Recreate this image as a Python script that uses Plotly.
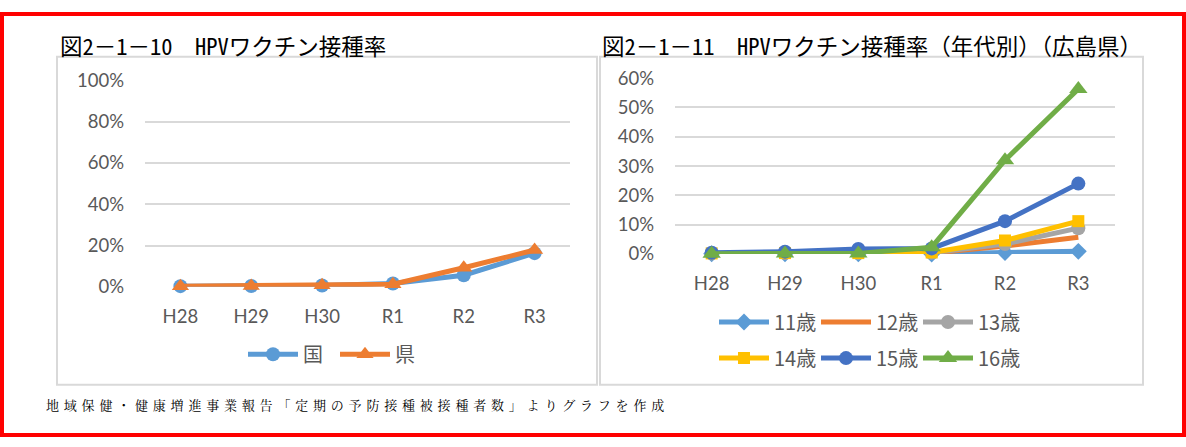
import plotly.graph_objects as go

W, H = 1186, 447

years = ["H28", "H29", "H30", "R1", "R2", "R3"]

# Left chart: 国 / 県
kuni = [0.003, 0.004, 0.006, 0.016, 0.056, 0.163]
ken = [0.003, 0.004, 0.007, 0.012, 0.092, 0.178]

# Right chart: by age (広島県)
age11 = [0.001, 0.001, 0.001, 0.000, 0.005, 0.009]
age12 = [0.001, 0.001, 0.001, 0.003, 0.027, 0.057]
age13 = [0.002, 0.003, 0.003, 0.004, 0.034, 0.088]
age14 = [0.002, 0.003, 0.003, 0.005, 0.046, 0.112]
age15 = [0.004, 0.008, 0.017, 0.019, 0.112, 0.240]
age16 = [0.001, 0.002, 0.002, 0.023, 0.320, 0.563]

left_ticks = [0, 0.2, 0.4, 0.6, 0.8, 1.0]
right_ticks = [0, 0.1, 0.2, 0.3, 0.4, 0.5, 0.6]

title_left = "図2－1－10　HPVワクチン接種率"
title_right = "図2－1－11　HPVワクチン接種率（年代別）（広島県）"
footer = "地域保健・健康増進事業報告「定期の予防接種被接種者数」よりグラフを作成"


def px(x):
    return x / W


def py(y):
    return 1 - y / H


GRAY = "#595959"
GRID = "#d9d9d9"
TICKFONT = dict(family="Lato, Open Sans, sans-serif", size=18.5, color=GRAY)
LEGFONT = dict(family="Noto Sans CJK JP, sans-serif", size=20, color=GRAY)
TITLEFONT = dict(family="Noto Sans Mono CJK JP, Noto Sans CJK JP, sans-serif", size=22.5, color="#000000")

fig = go.Figure()


def add(name, x, y, color, symbol, msize, xa, ya, legend, show_marker=True):
    fig.add_trace(go.Scatter(
        x=x, y=y, name=name, mode="lines+markers" if show_marker else "lines",
        line=dict(color=color, width=5),
        marker=dict(color=color, symbol=symbol, size=msize),
        xaxis=xa, yaxis=ya, legend=legend, cliponaxis=False,
    ))


add("国", years, kuni, "#5B9BD5", "circle", 14, "x", "y", "legend")
add("県", years, ken, "#ED7D31", "triangle-up", 15, "x", "y", "legend")

add("11歳", years, age11, "#5B9BD5", "diamond", 13, "x2", "y2", "legend2")
add("12歳", years, age12, "#ED7D31", "circle", 13, "x2", "y2", "legend2", show_marker=False)
add("13歳", years, age13, "#A5A5A5", "circle", 14, "x2", "y2", "legend2")
add("14歳", years, age14, "#FFC000", "square", 12, "x2", "y2", "legend3")
add("15歳", years, age15, "#4472C4", "circle", 14, "x2", "y2", "legend3")
add("16歳", years, age16, "#70AD47", "triangle-up", 16, "x2", "y2", "legend3")

common_x = dict(type="category", range=[-0.5, 5.5], showgrid=False, zeroline=False,
                showline=False, ticks="", tickfont=TICKFONT, ticklabelstandoff=17,
                fixedrange=True)
common_y = dict(showgrid=True, gridcolor=GRID, gridwidth=2, zeroline=False,
                showline=False, ticks="", tickfont=TICKFONT, tickformat=".0%",
                ticklabelstandoff=20, fixedrange=True)

legend_common = dict(orientation="h", xanchor="left", yanchor="middle", font=LEGFONT,
                     bgcolor="rgba(0,0,0,0)", itemwidth=50, tracegroupgap=0)

fig.update_layout(
    width=W, height=H,
    margin=dict(l=0, r=0, t=0, b=0),
    paper_bgcolor="white", plot_bgcolor="rgba(0,0,0,0)",
    xaxis=dict(common_x, domain=[px(145), px(570)], anchor="y"),
    yaxis=dict(common_y, domain=[py(289), py(72)], range=[0, 1],
               tickvals=left_ticks, anchor="x"),
    xaxis2=dict(common_x, domain=[px(675), px(1115)], anchor="y2"),
    yaxis2=dict(common_y, domain=[py(254.5), py(69.5)], range=[0, 0.6],
                tickvals=right_ticks, anchor="x2"),
    legend=dict(legend_common, x=px(243), y=py(360), entrywidth=27),
    legend2=dict(legend_common, x=px(714), y=py(326), entrywidth=37),
    legend3=dict(legend_common, x=px(714), y=py(364), entrywidth=37),
    shapes=[
        dict(type="rect", xref="paper", yref="paper", x0=px(57), x1=px(597), y0=py(392), y1=py(47),
             line=dict(color=GRID, width=2), layer="below"),
        dict(type="rect", xref="paper", yref="paper", x0=px(600), x1=px(1143), y0=py(392), y1=py(47),
             line=dict(color=GRID, width=2), layer="below"),
        dict(type="rect", xref="paper", yref="paper", x0=px(2), x1=px(1184), y0=py(445), y1=py(2),
             line=dict(color="#FF0000", width=4)),
    ],
    annotations=[
        dict(text=title_left, xref="paper", yref="paper", x=px(58), y=py(35),
             xanchor="left", yanchor="middle", showarrow=False, font=TITLEFONT),
        dict(text=title_right, xref="paper", yref="paper", x=px(600), y=py(35),
             xanchor="left", yanchor="middle", showarrow=False, font=TITLEFONT),
        dict(text='<span style="letter-spacing:4.8px">' + footer + '</span>',
             xref="paper", yref="paper", x=px(44), y=py(413),
             xanchor="left", yanchor="middle", showarrow=False,
             font=dict(family="Noto Serif CJK JP, Noto Sans CJK JP, serif", size=13, color="#000000")),
    ],
)

post = (
    "var de=document.documentElement, b=document.body;"
    "[de,b].forEach(function(e){e.style.margin='0';e.style.padding='0';"
    "e.style.overflow='hidden';});"
)

fig.write_html(
    "out.html",
    config={"displayModeBar": False, "staticPlot": True},
    post_script=post,
)
